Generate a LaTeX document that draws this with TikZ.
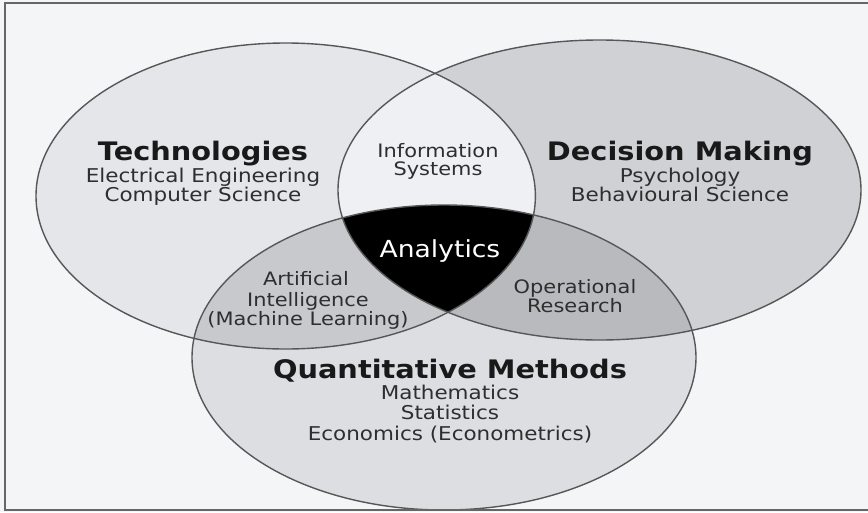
\documentclass[tikz,border=0pt]{standalone}
\usepackage{fontspec}
\setmainfont{DejaVu Sans}[FakeStretch=1.13]
\begin{document}
\begin{tikzpicture}[x=1pt,y=-1pt,
  titletext/.style={font=\fontsize{25.5}{28}\bfseries\selectfont, text=black!90, anchor=base, inner sep=0pt},
  subtext/.style={font=\fontsize{19}{22}\selectfont, text=black!82, anchor=base, inner sep=0pt},
  areatext/.style={font=\fontsize{18.5}{21}\selectfont, text=black!82, anchor=base, inner sep=0pt},
  outline/.style={draw=black!66, line width=1.4pt}]
\definecolor{bgc}{HTML}{F4F5F7}
\definecolor{tc}{HTML}{E4E6EA}
\definecolor{dc}{HTML}{D0D1D5}
\definecolor{qc}{HTML}{DDDEE2}
\definecolor{isc}{HTML}{EFF0F4}
\definecolor{aic}{HTML}{C8C9CD}
\definecolor{orc}{HTML}{B9BABE}
\useasboundingbox (0,0) rectangle (868,512);
\fill[bgc] (0,0) rectangle (868,512);
\def\TE{(285.7,196) ellipse [x radius=249.7pt, y radius=153pt]}
\def\DE{(599.5,190) ellipse [x radius=261.5pt, y radius=150pt]}
\def\QE{(444,357.5) ellipse [x radius=252pt, y radius=152.5pt]}
\fill[tc] \TE;
\fill[dc] \DE;
\fill[qc] \QE;
\begin{scope}
  \clip \TE;
  \fill[isc] \DE;
  \fill[aic] \QE;
\end{scope}
\begin{scope}
  \clip \DE;
  \fill[orc] \QE;
\end{scope}
\begin{scope}
  \clip \TE;
  \clip \DE;
  \fill[black] \QE;
\end{scope}
\draw[outline] \TE;
\draw[outline] \DE;
\draw[outline] \QE;
% frame
\draw[black!60, line width=2pt] (868,3) -- (4.5,3) -- (4.5,510) -- (868,510);
% texts
\node[titletext] (tt) at (203,160) {Technologies};
\node[subtext] (t1) at (203,182) {Electrical Engineering};
\node[subtext] (t2) at (203,201) {Computer Science};
\node[titletext] (dt) at (680,160) {Decision Making};
\node[subtext] (d1) at (680,182) {Psychology};
\node[subtext] (d2) at (680,201) {Behavioural Science};
\node[titletext] (qt) at (450,378) {Quantitative Methods};
\node[subtext] (q1) at (450,399) {Mathematics};
\node[subtext] (q2) at (450,419) {Statistics};
\node[subtext] (q3) at (450,440) {Economics (Econometrics)};
\node[areatext] (i1) at (438,157) {Information};
\node[areatext] (i2) at (438,175) {Systems};
\node[areatext] (a1) at (306,285) {Artificial};
\node[areatext] (a2) at (308,306) {Intelligence};
\node[areatext] (a3) at (308,325) {(Machine Learning)};
\node[areatext] (o1) at (575,293) {Operational};
\node[areatext] (o2) at (575,312) {Research};
\node[font=\fontsize{23.5}{26}\selectfont, text=white, anchor=base, inner sep=0pt] (an) at (440,257) {Analytics};
\end{tikzpicture}
\end{document}
